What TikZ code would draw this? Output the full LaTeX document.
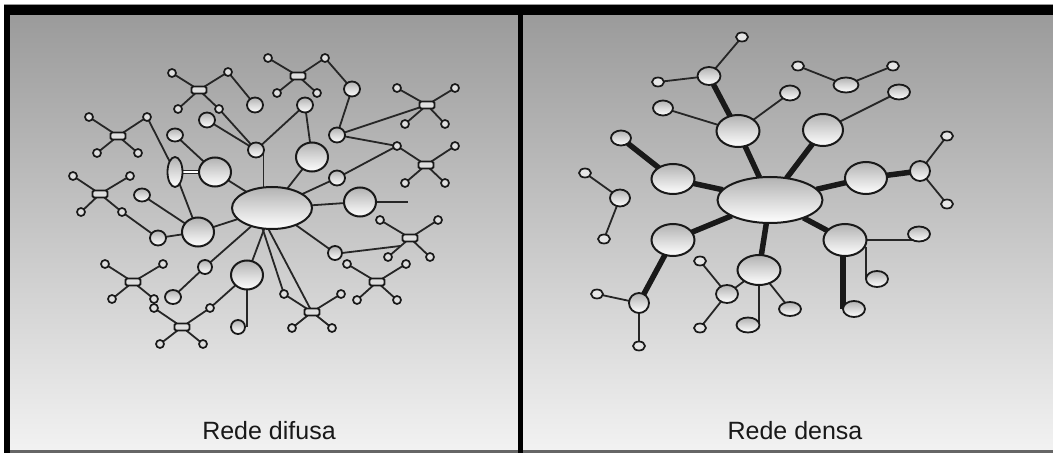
\documentclass[tikz,border=0pt]{standalone}
\usepackage{fontspec}
\setmainfont{Liberation Sans}
\usetikzlibrary{shapes.geometric,calc}
\pgfdeclarelayer{back}
\pgfdeclarelayer{edges}
\pgfsetlayers{back,edges,main}

\tikzset{
  every node/.style={inner sep=0pt, outer sep=0pt},
  ball/.style={ellipse, draw=black!90, line width=2pt, top color=gray!60, bottom color=white},
  big/.style={ball, minimum width=32pt, minimum height=29pt},
  small/.style={ball, line width=1.8pt, minimum width=16pt, minimum height=15pt},
  atom/.style={circle, draw=black!90, line width=1.7pt, fill=gray!25, minimum size=8pt},
  core/.style={rectangle, rounded corners=1.5pt, draw=black!90, line width=1.8pt, fill=gray!25, minimum width=15pt, minimum height=7pt},
  link/.style={draw=black!85, line width=1.8pt},
  heavy/.style={draw=black!90, line width=5.5pt},
  rbig/.style={ball, minimum width=43pt, minimum height=32pt},
  rsmall/.style={ball, line width=1.8pt, minimum width=22pt, minimum height=16pt},
  rdot/.style={ellipse, draw=black!90, line width=1.7pt, fill=gray!20, minimum width=12pt, minimum height=9pt},
  caption/.style={font=\fontsize{25}{25}\selectfont, text=black!90},
}

% a small four-armed molecule: name, centre, upper left, upper right, lower left, lower right
\newcommand\molecule[6]{%
  \node[core] (#1) at (#2) {};
  \node[atom] (#1-a) at (#3) {};
  \node[atom] (#1-b) at (#4) {};
  \node[atom] (#1-c) at (#5) {};
  \node[atom] (#1-d) at (#6) {};
  \begin{pgfonlayer}{edges}
    \foreach \k in {a,b,c,d} \draw[link] (#1) -- (#1-\k);
  \end{pgfonlayer}
}

\begin{document}
\begin{tikzpicture}[x=1pt, y=-1pt]
\useasboundingbox (0,0) rectangle (1053,457);

% ---------- background and frame ----------
\begin{pgfonlayer}{back}
  \fill[white] (0,0) rectangle (1053,457);
  \shade[top color=black!40, middle color=black!24, bottom color=black!5] (4,5) rectangle (1053,452);
  \fill[black!60] (4,450) rectangle (1053,453);
  \fill[black] (4,5) rectangle (1053,15);
  \fill[black] (4,5) rectangle (10,453);
  \fill[black] (518,5) rectangle (523,453);
\end{pgfonlayer}

% ================= left panel: Rede difusa =================
\node[ball, minimum width=80pt, minimum height=42pt] (L0) at (272,208) {};
\node[big] (L1) at (215,172) {};
\node[big] (L2) at (198,232) {};
\node[big] (L3) at (312,157) {};
\node[big] (L4) at (360,202) {};
\node[big] (L5) at (247,275) {};

\node[small] (s1) at (256,150) {};
\node[small] (s2) at (207,120) {};
\node[small] (s3) at (255,105) {};
\node[small] (s4) at (305,105) {};
\node[small] (s5) at (352,89) {};
\node[small] (s6) at (337,135) {};
\node[small] (s7) at (337,178) {};
\node[small, minimum width=14pt, minimum height=14pt] (s8) at (335,253) {};
\node[small] (s9) at (158,238) {};
\node[small, minimum width=14pt, minimum height=14pt] (s10) at (205,267) {};

\node[small, minimum height=13pt] (e1) at (175,135) {};
\node[small, minimum width=15pt, minimum height=30pt] (e2) at (175,172) {};
\node[small, minimum height=13pt] (e3) at (142,195) {};
\node[small, minimum height=14pt] (e4) at (173,297) {};
\node[small, minimum width=14pt, minimum height=14pt] (e5) at (238,327) {};

\molecule{A}{199,90}{172,73}{228,72}{178,109}{219,109}
\molecule{B}{118,136}{89,117}{147,117}{97,153}{138,153}
\molecule{C}{100,194}{73,176}{130,176}{81,212}{122,212}
\molecule{D}{298,76}{268,58}{325,58}{277,93}{317,93}
\molecule{E}{427,105}{397,88}{455,88}{405,124}{445,124}
\molecule{F}{426,165}{397,146}{455,146}{405,183}{445,183}
\molecule{G}{182,327}{154,308}{210,308}{160,344}{203,344}
\molecule{H}{133,282}{105,264}{163,264}{112,299}{154,299}
\molecule{I}{410,238}{380,220}{438,220}{388,257}{430,257}
\molecule{J}{377,282}{347,264}{406,264}{357,300}{397,300}
\molecule{K}{312,312}{284,294}{341,294}{292,328}{332,328}

\coordinate (L4end) at (408,202);
\coordinate (Iarm) at (400,246);

\begin{pgfonlayer}{edges}
  \draw[link] (A-b) -- (s3);
  \draw[link] (A-d) -- (s1);
  \draw[link] (s2) -- (s1);
  \draw[link] (s1) -- (s4);
  \draw[link] (s1.-20) -- (s1.-20 |- L0.center);
  \draw[link] (s4) -- (L3);
  \draw[link] (D-b) -- (s5);
  \draw[link] (s5) -- (s6);
  \draw[link] (s6) -- (E);
  \draw[link] (s6) -- (F-a);
  \draw[link] (F-a) -- (s7);
  \draw[link] (s7) -- (L0);
  \draw[link] (L3) -- (L0);
  \draw[link] (L0) -- (L4);
  \draw[link] (L4) -- (L4end);
  \draw[link] (L0) -- (s8);
  \draw[link] (s8.east) -- (Iarm);
  \draw[link] (L0.-100) -- (K);
  \draw[link] (L0.-115) -- (K-a);
  \draw[link] (L0) -- (L5);
  \draw[link] (L0) -- (s10);
  \draw[link] (s10) -- (e4);
  \draw[link] (L5.south) -- (L5.south |- e5.center);
  \draw[link] (L5) -- (G-b);
  \draw[link] (L0) -- (L2);
  \draw[link] (L0) -- (L1);
  \draw[link] (L1) -- (e1);
  \draw[link, double, double distance=1.6pt, line width=1.2pt] (e2) -- (L1);
  \draw[link] (B-b) -- (e2);
  \draw[link] (e2) -- (L2);
  \draw[link] (e3) -- (L2);
  \draw[link] (s9) -- (L2);
  \draw[link] (C-d) -- (s9);
  \draw[link] (H-d) -- (G-a);
\end{pgfonlayer}

\node[caption] (capL) at (269,431) {Rede difusa};

% ================= right panel: Rede densa =================
\node[ball, minimum width=105pt, minimum height=46pt] (R0) at (770,200) {};
\node[rbig] (R1) at (738,131) {};
\node[rbig, minimum width=40pt] (R2) at (823,130) {};
\node[rbig, minimum width=42pt] (R3) at (866,178) {};
\node[rbig] (R4) at (845,240) {};
\node[rbig, minimum height=30pt] (R5) at (759,270) {};
\node[rbig] (R6) at (673,240) {};
\node[rbig, minimum height=30pt] (R7) at (673,179) {};

\node[rsmall, minimum width=23pt, minimum height=18pt] (r1) at (709,76) {};
\node[rsmall, minimum width=20pt, minimum height=15pt] (r2) at (663,108) {};
\node[rsmall, minimum width=20pt, minimum height=15pt] (r3) at (621,138) {};
\node[rsmall, minimum width=20pt, minimum height=15pt] (r4) at (790,93) {};
\node[rsmall, minimum width=25pt, minimum height=15pt] (r5) at (846,85) {};
\node[rsmall, minimum height=15pt] (r6) at (899,92) {};
\node[rsmall, minimum width=20pt, minimum height=20pt] (r7) at (920,171) {};
\node[rsmall, minimum width=20pt, minimum height=17pt] (r8) at (620,198) {};
\node[rsmall, minimum width=20pt, minimum height=20pt] (r9) at (639,303) {};
\node[rsmall, minimum height=18pt] (r10) at (727,294) {};
\node[rsmall, minimum width=23pt, minimum height=15pt] (r11) at (748,325) {};
\node[rsmall, minimum height=14pt] (r12) at (790,309) {};
\node[rsmall, minimum height=15pt] (r13) at (919,234) {};
\node[rsmall] (r14) at (877,279) {};
\node[rsmall] (r15) at (854,309) {};

\node[rdot] (d1) at (742,37) {};
\node[rdot] (d2) at (658,82) {};
\node[rdot] (d3) at (585,173) {};
\node[rdot] (d4) at (798,66) {};
\node[rdot] (d5) at (893,66) {};
\node[rdot] (d6) at (947,136) {};
\node[rdot] (d7) at (947,204) {};
\node[rdot] (d8) at (604,239) {};
\node[rdot] (d9) at (597,294) {};
\node[rdot] (d10) at (639,346) {};
\node[rdot] (d11) at (700,261) {};
\node[rdot] (d12) at (700,328) {};

\coordinate (R4r) at (866,247);
\coordinate (R4s) at (843,252);

\begin{pgfonlayer}{edges}
  % thin links
  \draw[link] (d1) -- (r1);
  \draw[link] (r1) -- (d2);
  \draw[link] (r2) -- (R1);
  \draw[link] (r4) -- (R1);
  \draw[link] (d3) -- (r8);
  \draw[link] (r8) -- (d8);
  \draw[link] (d4) -- (r5);
  \draw[link] (r5) -- (d5);
  \draw[link] (r6) -- (R2);
  \draw[link] (r7) -- (d6);
  \draw[link] (r7) -- (d7);
  \draw[link] (r9) -- (d9);
  \draw[link] (r9) -- (d10);
  \draw[link] (d11) -- (r10);
  \draw[link] (r10) -- (d12);
  \draw[link] (R5) -- (r10);
  \draw[link] (R5.south) -- (R5.south |- r11.center);
  \draw[link] (R5) -- (r12);
  \draw[link] (R4.east) -- (R4.east -| r13.center);
  \draw[link] (R4r) -- (R4r |- r14.center);
  % heavy links
  \draw[heavy] (r1) -- (R1);
  \draw[heavy] (R1) -- (R0);
  \draw[heavy] (R2) -- (R0);
  \draw[heavy] (r3) -- (R7);
  \draw[heavy] (R7) -- (R0);
  \draw[heavy] (R3) -- (R0);
  \draw[heavy] (R3) -- (r7);
  \draw[heavy] (R6) -- (R0);
  \draw[heavy] (R6) -- (r9);
  \draw[heavy] (R5) -- (R0);
  \draw[heavy] (R0) -- (R4);
  \draw[heavy] (R4s) -- (R4s |- r15.center);
\end{pgfonlayer}

\node[caption] (capR) at (795,431) {Rede densa};
\end{tikzpicture}
\end{document}
